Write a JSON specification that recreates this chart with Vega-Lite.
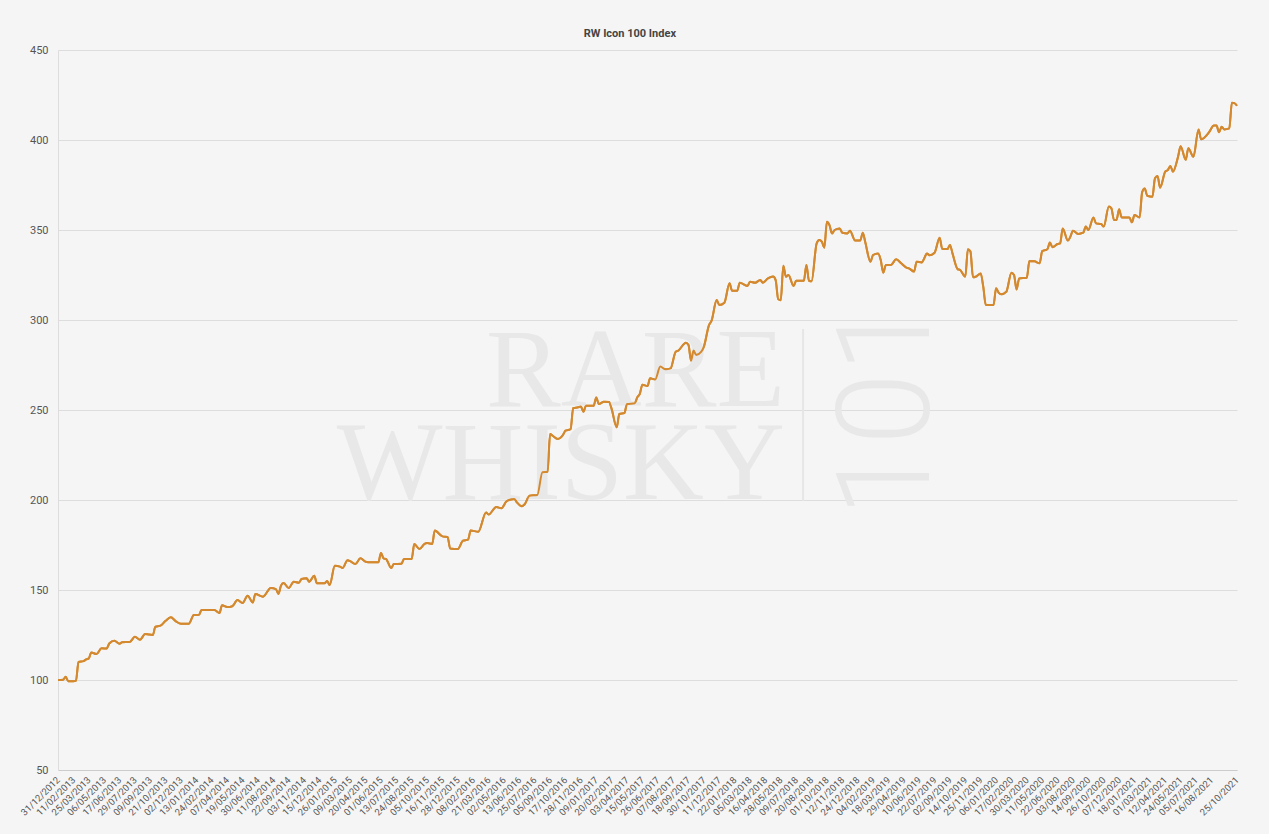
{
  "$schema": "https://vega.github.io/schema/vega-lite/v6.json",
  "width": 1179,
  "height": 720,
  "autosize": {"type": "none"},
  "padding": {"left": 58, "top": 50, "right": 32, "bottom": 64},
  "background": "#f5f5f5",
  "title": {"text": "RW Icon 100 Index", "fontSize": 11, "fontWeight": "bold", "color": "#444444", "font": "Liberation Sans Narrow, Roboto, sans-serif", "anchor": "middle", "frame": "bounds", "offset": 5},
  "config": {
    "view": {"stroke": null},
    "axisX": {"tickCount": 100, "labelOverlap": false, "labelBound": false, "labelFlush": false, "labelAngle": -45, "labelAlign": "right", "labelBaseline": "middle", "labelPadding": 8, "ticks": false, "grid": false, "domainColor": "#cccccc", "labelFontSize": 9.5, "labelColor": "#555555", "labelFont": "Liberation Sans Narrow, Roboto, sans-serif", "title": null},
    "axisY": {"grid": true, "gridColor": "#dddddd", "ticks": false, "domainColor": "#dddddd", "labelPadding": 10, "labelFontSize": 11, "labelColor": "#555555", "labelFont": "Liberation Sans Narrow, Roboto, sans-serif", "title": null}
  },
  "datasets": {
    "index": [
      {"d": "2012-12-31", "v": 100}, {"d": "2013-01-14", "v": 100.2}, {"d": "2013-01-21", "v": 101.8}, {"d": "2013-01-28", "v": 99.3},
      {"d": "2013-02-11", "v": 99.3}, {"d": "2013-02-18", "v": 99.5}, {"d": "2013-02-25", "v": 110}, {"d": "2013-03-11", "v": 110.5},
      {"d": "2013-03-18", "v": 111.5}, {"d": "2013-03-25", "v": 112}, {"d": "2013-04-01", "v": 115.3}, {"d": "2013-04-15", "v": 114.4},
      {"d": "2013-04-29", "v": 117.6}, {"d": "2013-05-13", "v": 117.5}, {"d": "2013-05-20", "v": 120.3}, {"d": "2013-06-03", "v": 121.8},
      {"d": "2013-06-17", "v": 120.2}, {"d": "2013-06-24", "v": 121}, {"d": "2013-07-15", "v": 121.1}, {"d": "2013-07-29", "v": 124},
      {"d": "2013-08-12", "v": 122.4}, {"d": "2013-08-26", "v": 125.5}, {"d": "2013-09-16", "v": 125}, {"d": "2013-09-23", "v": 129.6},
      {"d": "2013-10-07", "v": 130.2}, {"d": "2013-10-21", "v": 132.9}, {"d": "2013-11-04", "v": 134.8}, {"d": "2013-11-18", "v": 132.6},
      {"d": "2013-12-02", "v": 131.2}, {"d": "2013-12-23", "v": 131.2}, {"d": "2014-01-06", "v": 136.1}, {"d": "2014-01-20", "v": 136.2},
      {"d": "2014-01-27", "v": 138.9}, {"d": "2014-03-03", "v": 138.9}, {"d": "2014-03-17", "v": 137.2}, {"d": "2014-03-24", "v": 141.5},
      {"d": "2014-04-07", "v": 140.5}, {"d": "2014-04-21", "v": 141}, {"d": "2014-05-05", "v": 144.4}, {"d": "2014-05-19", "v": 142.8},
      {"d": "2014-06-02", "v": 146.8}, {"d": "2014-06-16", "v": 143.1}, {"d": "2014-06-23", "v": 147.8}, {"d": "2014-07-14", "v": 146.3},
      {"d": "2014-08-04", "v": 151.1}, {"d": "2014-08-18", "v": 150.5}, {"d": "2014-08-25", "v": 147.8}, {"d": "2014-09-01", "v": 152.4},
      {"d": "2014-09-08", "v": 153.9}, {"d": "2014-09-22", "v": 151.1}, {"d": "2014-10-06", "v": 154.6}, {"d": "2014-10-20", "v": 154},
      {"d": "2014-10-27", "v": 156.1}, {"d": "2014-11-10", "v": 156.5}, {"d": "2014-11-17", "v": 154.6}, {"d": "2014-12-01", "v": 157.9},
      {"d": "2014-12-08", "v": 153.7}, {"d": "2014-12-29", "v": 153.7}, {"d": "2015-01-05", "v": 155}, {"d": "2015-01-12", "v": 152.8},
      {"d": "2015-01-26", "v": 163.5}, {"d": "2015-02-09", "v": 163}, {"d": "2015-02-16", "v": 162.2}, {"d": "2015-03-02", "v": 166.5},
      {"d": "2015-03-09", "v": 166}, {"d": "2015-03-23", "v": 164.4}, {"d": "2015-04-06", "v": 167.6}, {"d": "2015-04-20", "v": 165.7},
      {"d": "2015-05-04", "v": 165.4}, {"d": "2015-05-25", "v": 165.4}, {"d": "2015-06-01", "v": 170.6}, {"d": "2015-06-08", "v": 167.6},
      {"d": "2015-06-15", "v": 167.2}, {"d": "2015-06-29", "v": 162.2}, {"d": "2015-07-06", "v": 164.4}, {"d": "2015-07-27", "v": 164.6},
      {"d": "2015-08-03", "v": 167.2}, {"d": "2015-08-24", "v": 167.2}, {"d": "2015-08-31", "v": 175.6}, {"d": "2015-09-14", "v": 172.8},
      {"d": "2015-09-28", "v": 175.6}, {"d": "2015-10-05", "v": 176.1}, {"d": "2015-10-19", "v": 175.6}, {"d": "2015-10-26", "v": 183},
      {"d": "2015-11-16", "v": 179.8}, {"d": "2015-11-30", "v": 179.5}, {"d": "2015-12-07", "v": 173.1}, {"d": "2015-12-28", "v": 172.8},
      {"d": "2016-01-11", "v": 177.4}, {"d": "2016-01-25", "v": 178}, {"d": "2016-02-01", "v": 183}, {"d": "2016-02-22", "v": 182.4},
      {"d": "2016-03-14", "v": 193.1}, {"d": "2016-03-21", "v": 191.9}, {"d": "2016-04-11", "v": 196.1}, {"d": "2016-04-25", "v": 195.4},
      {"d": "2016-05-09", "v": 199.3}, {"d": "2016-05-30", "v": 200.6}, {"d": "2016-06-06", "v": 198.7}, {"d": "2016-06-20", "v": 196.5},
      {"d": "2016-06-27", "v": 197.5}, {"d": "2016-07-11", "v": 202.4}, {"d": "2016-08-01", "v": 202.8}, {"d": "2016-08-15", "v": 215.4},
      {"d": "2016-08-29", "v": 215.7}, {"d": "2016-09-05", "v": 236.7}, {"d": "2016-09-12", "v": 235.7}, {"d": "2016-09-26", "v": 233.9},
      {"d": "2016-10-10", "v": 236.1}, {"d": "2016-10-17", "v": 238.5}, {"d": "2016-10-31", "v": 239.4}, {"d": "2016-11-07", "v": 251.1},
      {"d": "2016-11-21", "v": 251.5}, {"d": "2016-11-28", "v": 252}, {"d": "2016-12-05", "v": 249}, {"d": "2016-12-12", "v": 252.4},
      {"d": "2017-01-02", "v": 252.4}, {"d": "2017-01-09", "v": 257}, {"d": "2017-01-16", "v": 253.3}, {"d": "2017-01-30", "v": 254.6},
      {"d": "2017-02-13", "v": 254.5}, {"d": "2017-02-20", "v": 250.6}, {"d": "2017-03-06", "v": 240.4}, {"d": "2017-03-13", "v": 247.8},
      {"d": "2017-03-27", "v": 248.3}, {"d": "2017-04-03", "v": 253.3}, {"d": "2017-04-24", "v": 253.7}, {"d": "2017-05-01", "v": 257},
      {"d": "2017-05-08", "v": 259}, {"d": "2017-05-15", "v": 264}, {"d": "2017-05-29", "v": 263.3}, {"d": "2017-06-05", "v": 267.6},
      {"d": "2017-06-19", "v": 267}, {"d": "2017-07-03", "v": 274.1}, {"d": "2017-07-17", "v": 272.6}, {"d": "2017-07-31", "v": 273.1},
      {"d": "2017-08-14", "v": 282.4}, {"d": "2017-08-21", "v": 283}, {"d": "2017-09-11", "v": 287.4}, {"d": "2017-09-18", "v": 286.1},
      {"d": "2017-09-25", "v": 277.4}, {"d": "2017-10-02", "v": 283}, {"d": "2017-10-09", "v": 280.6}, {"d": "2017-10-23", "v": 282.4},
      {"d": "2017-10-30", "v": 285.2}, {"d": "2017-11-13", "v": 297.2}, {"d": "2017-11-20", "v": 299.6}, {"d": "2017-12-04", "v": 311.1},
      {"d": "2017-12-11", "v": 308.3}, {"d": "2017-12-25", "v": 309.6}, {"d": "2018-01-08", "v": 320.4}, {"d": "2018-01-15", "v": 316.3},
      {"d": "2018-01-29", "v": 316.3}, {"d": "2018-02-05", "v": 320.7}, {"d": "2018-02-26", "v": 318.9}, {"d": "2018-03-05", "v": 321.3},
      {"d": "2018-03-19", "v": 320.7}, {"d": "2018-04-02", "v": 322.2}, {"d": "2018-04-09", "v": 320.7}, {"d": "2018-04-23", "v": 323.1},
      {"d": "2018-05-07", "v": 324.1}, {"d": "2018-05-14", "v": 322.2}, {"d": "2018-05-21", "v": 311.5}, {"d": "2018-05-28", "v": 311},
      {"d": "2018-06-04", "v": 330.2}, {"d": "2018-06-11", "v": 324}, {"d": "2018-06-18", "v": 325}, {"d": "2018-07-02", "v": 318.9},
      {"d": "2018-07-09", "v": 321.8}, {"d": "2018-07-30", "v": 321.8}, {"d": "2018-08-06", "v": 330.6}, {"d": "2018-08-13", "v": 321.8},
      {"d": "2018-08-20", "v": 321.5}, {"d": "2018-09-03", "v": 342.6}, {"d": "2018-09-10", "v": 344.4}, {"d": "2018-09-17", "v": 343.5},
      {"d": "2018-09-24", "v": 340.2}, {"d": "2018-10-01", "v": 354.6}, {"d": "2018-10-08", "v": 352.7}, {"d": "2018-10-15", "v": 348.1},
      {"d": "2018-10-22", "v": 350}, {"d": "2018-11-05", "v": 350.9}, {"d": "2018-11-12", "v": 348.5}, {"d": "2018-11-26", "v": 348.1},
      {"d": "2018-12-03", "v": 349.6}, {"d": "2018-12-17", "v": 344.1}, {"d": "2018-12-31", "v": 344.1}, {"d": "2019-01-07", "v": 348.5},
      {"d": "2019-01-14", "v": 343}, {"d": "2019-01-28", "v": 332.4}, {"d": "2019-02-04", "v": 336.1}, {"d": "2019-02-18", "v": 337},
      {"d": "2019-02-25", "v": 333.3}, {"d": "2019-03-04", "v": 326.3}, {"d": "2019-03-11", "v": 330.6}, {"d": "2019-03-25", "v": 330.6},
      {"d": "2019-04-08", "v": 333.7}, {"d": "2019-04-22", "v": 331.5}, {"d": "2019-05-06", "v": 329.1}, {"d": "2019-05-13", "v": 328.7},
      {"d": "2019-05-27", "v": 326.9}, {"d": "2019-06-03", "v": 332.4}, {"d": "2019-06-17", "v": 332}, {"d": "2019-06-24", "v": 334.3},
      {"d": "2019-07-01", "v": 337}, {"d": "2019-07-08", "v": 336}, {"d": "2019-07-22", "v": 337.4}, {"d": "2019-08-05", "v": 345.7},
      {"d": "2019-08-12", "v": 339.4}, {"d": "2019-08-26", "v": 339.4}, {"d": "2019-09-02", "v": 341.7}, {"d": "2019-09-09", "v": 337},
      {"d": "2019-09-23", "v": 328.3}, {"d": "2019-09-30", "v": 327.8}, {"d": "2019-10-14", "v": 324.1}, {"d": "2019-10-21", "v": 339.3},
      {"d": "2019-10-28", "v": 338}, {"d": "2019-11-04", "v": 323.7}, {"d": "2019-11-11", "v": 324}, {"d": "2019-11-25", "v": 325.9},
      {"d": "2019-12-02", "v": 318.5}, {"d": "2019-12-09", "v": 308.3}, {"d": "2019-12-30", "v": 308.3}, {"d": "2020-01-06", "v": 317.6},
      {"d": "2020-01-13", "v": 315.2}, {"d": "2020-01-20", "v": 314.3}, {"d": "2020-02-03", "v": 315.7}, {"d": "2020-02-17", "v": 326.3},
      {"d": "2020-02-24", "v": 325}, {"d": "2020-03-02", "v": 317}, {"d": "2020-03-09", "v": 323.1}, {"d": "2020-03-30", "v": 323.5},
      {"d": "2020-04-06", "v": 332.8}, {"d": "2020-04-20", "v": 332.6}, {"d": "2020-05-04", "v": 331.5}, {"d": "2020-05-11", "v": 338.3},
      {"d": "2020-05-25", "v": 339.3}, {"d": "2020-06-01", "v": 343}, {"d": "2020-06-08", "v": 340.4}, {"d": "2020-06-22", "v": 342.2},
      {"d": "2020-06-29", "v": 342.6}, {"d": "2020-07-06", "v": 350.9}, {"d": "2020-07-20", "v": 344.1}, {"d": "2020-07-27", "v": 346.3},
      {"d": "2020-08-03", "v": 349.6}, {"d": "2020-08-17", "v": 347.8}, {"d": "2020-08-31", "v": 348.5}, {"d": "2020-09-07", "v": 351.9},
      {"d": "2020-09-14", "v": 350}, {"d": "2020-09-28", "v": 356.9}, {"d": "2020-10-05", "v": 353.7}, {"d": "2020-10-19", "v": 353.3},
      {"d": "2020-10-26", "v": 351.9}, {"d": "2020-11-09", "v": 363}, {"d": "2020-11-16", "v": 362}, {"d": "2020-11-23", "v": 355.6},
      {"d": "2020-11-30", "v": 355.6}, {"d": "2020-12-07", "v": 361.5}, {"d": "2020-12-14", "v": 357}, {"d": "2021-01-04", "v": 357},
      {"d": "2021-01-11", "v": 354.3}, {"d": "2021-01-18", "v": 358.3}, {"d": "2021-02-01", "v": 357}, {"d": "2021-02-08", "v": 371},
      {"d": "2021-02-15", "v": 373}, {"d": "2021-02-22", "v": 369}, {"d": "2021-03-08", "v": 368.5}, {"d": "2021-03-15", "v": 378.7},
      {"d": "2021-03-22", "v": 380}, {"d": "2021-03-29", "v": 373.5}, {"d": "2021-04-12", "v": 382.4}, {"d": "2021-04-19", "v": 383.3},
      {"d": "2021-04-26", "v": 385.6}, {"d": "2021-05-03", "v": 382.4}, {"d": "2021-05-17", "v": 390.7}, {"d": "2021-05-24", "v": 396.5},
      {"d": "2021-06-07", "v": 389}, {"d": "2021-06-14", "v": 395.4}, {"d": "2021-06-28", "v": 390.7}, {"d": "2021-07-12", "v": 405.9},
      {"d": "2021-07-19", "v": 400.4}, {"d": "2021-08-09", "v": 404.1}, {"d": "2021-08-23", "v": 408}, {"d": "2021-08-30", "v": 408},
      {"d": "2021-09-06", "v": 404.3}, {"d": "2021-09-13", "v": 407.4}, {"d": "2021-09-20", "v": 405.9}, {"d": "2021-10-04", "v": 406.5},
      {"d": "2021-10-11", "v": 420.7}, {"d": "2021-10-18", "v": 420.5}, {"d": "2021-10-25", "v": 419}
    ]
  },
  "layer": [
    {
      "data": {"name": "index"},
      "mark": {"type": "line", "color": "#d4892f", "strokeWidth": 2, "interpolate": "monotone"},
      "encoding": {
        "x": {
          "field": "d", "type": "temporal",
          "scale": {"type": "utc", "nice": false, "domain": [{"year": 2012, "month": 12, "date": 31, "utc": true}, {"year": 2021, "month": 10, "date": 25, "utc": true}]},
          "axis": {
            "title": null,
            "tickCount": 100,
            "labelExpr": "utcFormat(datum.value, '%d/%m/%Y')",
            "labelOverlap": false, "labelBound": false, "labelFlush": false,
            "values": [
              {"year": 2012, "month": 12, "date": 31, "utc": true}, {"year": 2013, "month": 2, "date": 11, "utc": true},
              {"year": 2013, "month": 3, "date": 25, "utc": true}, {"year": 2013, "month": 5, "date": 6, "utc": true},
              {"year": 2013, "month": 6, "date": 17, "utc": true}, {"year": 2013, "month": 7, "date": 29, "utc": true},
              {"year": 2013, "month": 9, "date": 9, "utc": true}, {"year": 2013, "month": 10, "date": 21, "utc": true},
              {"year": 2013, "month": 12, "date": 2, "utc": true}, {"year": 2014, "month": 1, "date": 13, "utc": true},
              {"year": 2014, "month": 2, "date": 24, "utc": true}, {"year": 2014, "month": 4, "date": 7, "utc": true},
              {"year": 2014, "month": 5, "date": 19, "utc": true}, {"year": 2014, "month": 6, "date": 30, "utc": true},
              {"year": 2014, "month": 8, "date": 11, "utc": true}, {"year": 2014, "month": 9, "date": 22, "utc": true},
              {"year": 2014, "month": 11, "date": 3, "utc": true}, {"year": 2014, "month": 12, "date": 15, "utc": true},
              {"year": 2015, "month": 1, "date": 26, "utc": true}, {"year": 2015, "month": 3, "date": 9, "utc": true},
              {"year": 2015, "month": 4, "date": 20, "utc": true}, {"year": 2015, "month": 6, "date": 1, "utc": true},
              {"year": 2015, "month": 7, "date": 13, "utc": true}, {"year": 2015, "month": 8, "date": 24, "utc": true},
              {"year": 2015, "month": 10, "date": 5, "utc": true}, {"year": 2015, "month": 11, "date": 16, "utc": true},
              {"year": 2015, "month": 12, "date": 28, "utc": true}, {"year": 2016, "month": 2, "date": 8, "utc": true},
              {"year": 2016, "month": 3, "date": 21, "utc": true}, {"year": 2016, "month": 5, "date": 2, "utc": true},
              {"year": 2016, "month": 6, "date": 13, "utc": true}, {"year": 2016, "month": 7, "date": 25, "utc": true},
              {"year": 2016, "month": 9, "date": 5, "utc": true}, {"year": 2016, "month": 10, "date": 17, "utc": true},
              {"year": 2016, "month": 11, "date": 28, "utc": true}, {"year": 2017, "month": 1, "date": 9, "utc": true},
              {"year": 2017, "month": 2, "date": 20, "utc": true}, {"year": 2017, "month": 4, "date": 3, "utc": true},
              {"year": 2017, "month": 5, "date": 15, "utc": true}, {"year": 2017, "month": 6, "date": 26, "utc": true},
              {"year": 2017, "month": 8, "date": 7, "utc": true}, {"year": 2017, "month": 9, "date": 18, "utc": true},
              {"year": 2017, "month": 10, "date": 30, "utc": true}, {"year": 2017, "month": 12, "date": 11, "utc": true},
              {"year": 2018, "month": 1, "date": 22, "utc": true}, {"year": 2018, "month": 3, "date": 5, "utc": true},
              {"year": 2018, "month": 4, "date": 16, "utc": true}, {"year": 2018, "month": 5, "date": 28, "utc": true},
              {"year": 2018, "month": 7, "date": 9, "utc": true}, {"year": 2018, "month": 8, "date": 20, "utc": true},
              {"year": 2018, "month": 10, "date": 1, "utc": true}, {"year": 2018, "month": 11, "date": 12, "utc": true},
              {"year": 2018, "month": 12, "date": 24, "utc": true}, {"year": 2019, "month": 2, "date": 4, "utc": true},
              {"year": 2019, "month": 3, "date": 18, "utc": true}, {"year": 2019, "month": 4, "date": 29, "utc": true},
              {"year": 2019, "month": 6, "date": 10, "utc": true}, {"year": 2019, "month": 7, "date": 22, "utc": true},
              {"year": 2019, "month": 9, "date": 2, "utc": true}, {"year": 2019, "month": 10, "date": 14, "utc": true},
              {"year": 2019, "month": 11, "date": 25, "utc": true}, {"year": 2020, "month": 1, "date": 6, "utc": true},
              {"year": 2020, "month": 2, "date": 17, "utc": true}, {"year": 2020, "month": 3, "date": 30, "utc": true},
              {"year": 2020, "month": 5, "date": 11, "utc": true}, {"year": 2020, "month": 6, "date": 22, "utc": true},
              {"year": 2020, "month": 8, "date": 3, "utc": true}, {"year": 2020, "month": 9, "date": 14, "utc": true},
              {"year": 2020, "month": 10, "date": 26, "utc": true}, {"year": 2020, "month": 12, "date": 7, "utc": true},
              {"year": 2021, "month": 1, "date": 18, "utc": true}, {"year": 2021, "month": 3, "date": 1, "utc": true},
              {"year": 2021, "month": 4, "date": 12, "utc": true}, {"year": 2021, "month": 5, "date": 24, "utc": true},
              {"year": 2021, "month": 7, "date": 5, "utc": true}, {"year": 2021, "month": 8, "date": 16, "utc": true},
              {"year": 2021, "month": 10, "date": 25, "utc": true}
            ]
          }
        },
        "y": {
          "field": "v", "type": "quantitative",
          "scale": {"domain": [50, 450], "nice": false, "zero": false},
          "axis": {"title": null, "values": [50, 100, 150, 200, 250, 300, 350, 400, 450]}
        }
      }
    },
    {
      "data": {"values": [{}]},
      "mark": {"type": "text", "text": "RARE", "font": "Liberation Serif", "fontSize": 112, "color": "#e8e8e8", "align": "right", "baseline": "alphabetic"},
      "encoding": {
        "x": {"datum": {"year": 2018, "month": 6, "date": 8, "utc": true}, "type": "temporal", "axis": {"tickCount": 100, "labelOverlap": false}},
        "y": {"datum": 252.2, "type": "quantitative"}
      }
    },
    {
      "data": {"values": [{}]},
      "mark": {"type": "text", "text": "WHISKY", "font": "Liberation Serif", "fontSize": 112, "color": "#e8e8e8", "align": "right", "baseline": "alphabetic"},
      "encoding": {
        "x": {"datum": {"year": 2018, "month": 6, "date": 8, "utc": true}, "type": "temporal", "axis": {"tickCount": 100, "labelOverlap": false}},
        "y": {"datum": 200.6, "type": "quantitative"}
      }
    },
    {
      "data": {"values": [{}]},
      "mark": {"type": "rule", "color": "#e6e6e6", "strokeWidth": 2},
      "encoding": {
        "x": {"datum": {"year": 2018, "month": 7, "date": 28, "utc": true}, "type": "temporal", "axis": {"tickCount": 100, "labelOverlap": false}},
        "y": {"datum": 295, "type": "quantitative"},
        "y2": {"datum": 199.4}
      }
    },
    {
      "data": {"values": [{}]},
      "mark": {"type": "text", "text": "101", "font": "Roboto", "fontWeight": 300, "fontSize": 130, "color": "#e8e8e8", "align": "center", "baseline": "middle", "angle": 270},
      "encoding": {
        "x": {"datum": {"year": 2019, "month": 3, "date": 21, "utc": true}, "type": "temporal", "axis": {"tickCount": 100, "labelOverlap": false}},
        "y": {"datum": 250.6, "type": "quantitative"}
      }
    },
    {
      "data": {"name": "index"},
      "mark": {"type": "line", "color": "#d4892f", "strokeWidth": 2, "interpolate": "monotone"},
      "encoding": {
        "x": {"field": "d", "type": "temporal", "axis": {"tickCount": 100, "labelOverlap": false}},
        "y": {"field": "v", "type": "quantitative"}
      }
    }
  ]
}
